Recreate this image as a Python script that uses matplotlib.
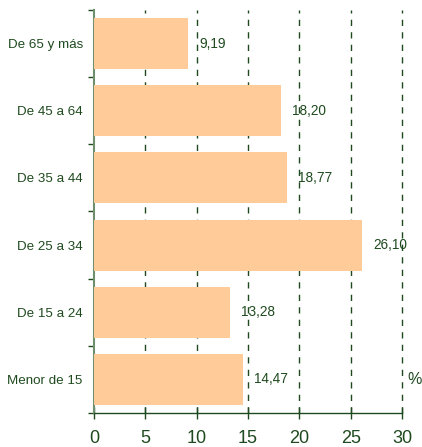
import matplotlib
matplotlib.use("Agg")
import matplotlib.pyplot as plt

plt.rcParams['font.family'] = ['Liberation Sans', 'DejaVu Sans']

categorias = ["Menor de 15", "De 15 a 24", "De 25 a 34", "De 35 a 44", "De 45 a 64", "De 65 y más"]
valores = [14.47, 13.28, 26.10, 18.77, 18.20, 9.19]
etiquetas = ["14,47", "13,28", "26,10", "18,77", "18,20", "9,19"]
xticks = [0, 5, 10, 15, 20, 25, 30]

verde = "#1f4a1f"
barra = "#ffcc99"

fig = plt.figure(figsize=(4.22, 4.47), dpi=100)
ax = fig.add_axes([0.2227, 0.0761, 0.73, 0.9015])

pos = list(range(len(categorias)))
ax.barh(pos, valores, height=0.76, color=barra, zorder=3)

for p, v, t in zip(pos, valores, etiquetas):
    ax.annotate(t, (v, p), xytext=(8, 0), textcoords="offset points",
                va="center", ha="left", fontsize=9.8, color=verde, zorder=4)

for x in xticks[1:]:
    ax.axvline(x, color=verde, lw=1.0, linestyle=(0, (4.5, 4.5)), zorder=1, clip_on=False)

ax.set_xlim(0, 30)
ax.set_ylim(-0.5, len(categorias) - 0.5)
ax.set_xticks(xticks)
ax.set_xticklabels([str(x) for x in xticks], fontsize=13, color=verde)
ax.set_yticks(pos)
ax.set_yticklabels(categorias, fontsize=9.6, color=verde)
ax.tick_params(axis="y", length=0, pad=8)
ax.set_yticks([p - 0.5 for p in pos] + [len(categorias) - 0.5], minor=True)
ax.tick_params(axis="y", which="minor", length=4, color=verde, width=1)
ax.tick_params(axis="x", direction="inout", length=8, color=verde, width=1, pad=8)

for s in ["top", "right"]:
    ax.spines[s].set_visible(False)
ax.spines["left"].set_color("#6f8f6f")
ax.spines["left"].set_linewidth(1.5)
ax.spines["bottom"].set_color(verde)
ax.spines["bottom"].set_linewidth(1)

ax.text(30.5, 0, "%", fontsize=11.5, color=verde, va="center", ha="left")

fig.savefig("out.png", dpi=100)
